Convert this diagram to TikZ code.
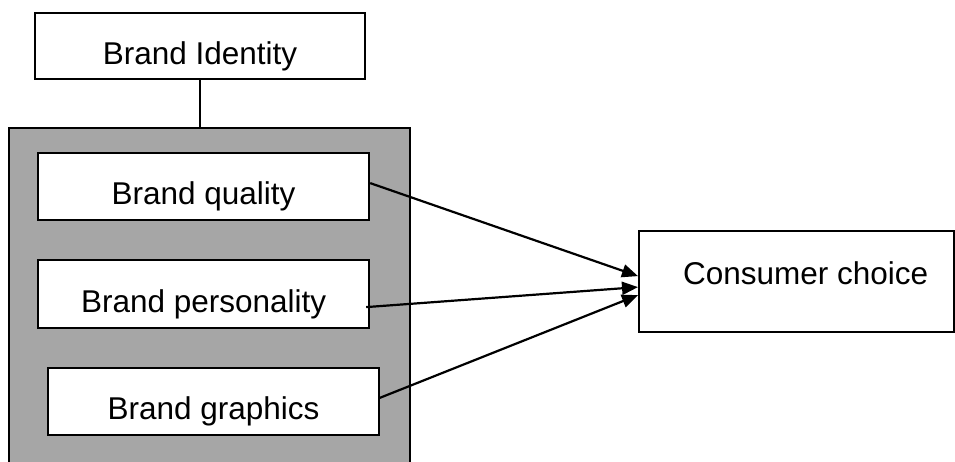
\documentclass[tikz,border=0pt]{standalone}
\usepackage{fontspec}
\setmainfont{Liberation Sans}
\usetikzlibrary{arrows.meta}
\definecolor{panelgray}{HTML}{A6A6A6}

\begin{document}
\begin{tikzpicture}[x=1pt,y=-1pt,->,>={Triangle[length=16pt,width=13pt]},
                    line width=2.2pt,
                    box/.style={draw,fill=white,inner sep=0pt,anchor=north west,
                                font=\fontsize{31.5}{36}\selectfont}]
  \useasboundingbox (0,0) rectangle (955,461);

  \node[draw,fill=panelgray,inner sep=0pt,anchor=north west,
        minimum width=401pt,minimum height=345pt] (panel) at (8,127) {};

  \node[box,minimum width=330pt,text height=51pt,text depth=15pt] (identity)    at (34,12)  {Brand Identity};
  \node[box,minimum width=331pt,text height=51pt,text depth=16pt] (quality)     at (37,152) {Brand quality};
  \node[box,minimum width=331pt,text height=52pt,text depth=16pt] (personality) at (37,259) {Brand personality};
  \node[box,minimum width=331pt,text height=51pt,text depth=16pt] (graphics)    at (47,367) {Brand graphics};
  \node[box,minimum width=315pt,text height=53pt,text depth=48pt] (choice)      at (638,230) {\hspace*{18pt}Consumer choice};

  \draw[-,line width=1.8pt] (identity.south) -- (identity.south |- panel.north);

  \path ([yshift=3.5pt]quality.east)            edge ([yshift=5.5pt]choice.west)
        ([xshift=-4pt,yshift=-13pt]personality.east) edge ([yshift=-5.5pt]choice.west)
        ([xshift=-1pt,yshift=3.5pt]graphics.east)   edge ([yshift=-13.5pt]choice.west);

\end{tikzpicture}
\end{document}
